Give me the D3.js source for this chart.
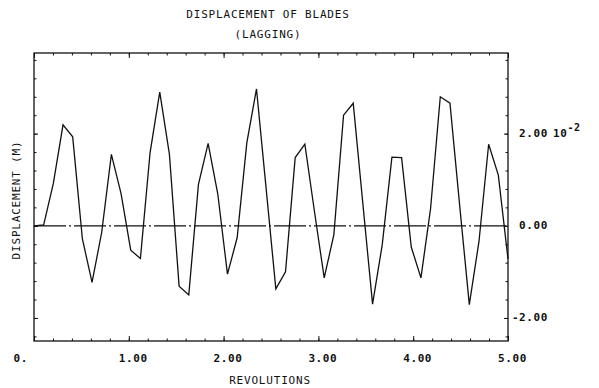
<!DOCTYPE html>
<meta charset="utf-8">
<head>
  <title>Displacement of blades (lagging)</title>
  <script src="https://d3js.org/d3.v7.min.js"></script>
  <style>
    body { margin: 0; background: #fff; }
    text {
      font-family: "DejaVu Sans Mono", monospace;
      font-size: 11px;
      letter-spacing: 0.8px;
      fill: #111;
    }
    text.num { font-weight: bold; letter-spacing: 0.6px; }
    .frame { fill: none; stroke: #111; stroke-width: 1.3px; }
    .trace { fill: none; stroke: #111; stroke-width: 1.3px; stroke-linejoin: miter; }
    .zero { stroke: #111; stroke-width: 1.2px; stroke-dasharray: 32, 3, 2, 3; }
    .tick line { stroke: #111; stroke-width: 1px; }
    .domain { display: none; }
  </style>
</head>

<body>
  <svg width="599" height="388"></svg>
  <script>
    // blade lag displacement, units of 10^-2 m, sampled evenly over 0..5 revolutions
    var displacement = [
      0.00, 0.02, 0.92, 2.19, 1.93, -0.28, -1.23, -0.14, 1.55, 0.70,
      -0.53, -0.71, 1.59, 2.90, 1.55, -1.31, -1.50, 0.90, 1.79, 0.69,
      -1.05, -0.26, 1.80, 2.97, 0.80, -1.37, -1.00, 1.48, 1.77, 0.30,
      -1.13, -0.19, 2.40, 2.66, 0.47, -1.70, -0.41, 1.49, 1.48, -0.46,
      -1.13, 0.38, 2.80, 2.66, 0.45, -1.71, -0.34, 1.77, 1.10, -0.72
    ];
    var revMax = 5;

    var xTicks = [0, 1, 2, 3, 4, 5];
    var xTickLabels = ["0.", "1.00", "2.00", "3.00", "4.00", "5.00"];
    var yTicks = [-2, 0, 2];
    var yTickLabels = ["-2.00", "0.00", "2.00"];

    var svg = d3.select("svg"),
      plotLeft = 34, plotRight = 508, plotTop = 53, plotBottom = 341;

    var x = d3.scaleLinear().domain([0, revMax]).range([plotLeft, plotRight]);
    var y = d3.scaleLinear().domain([-2.5, 3.75]).range([plotBottom, plotTop]);

    var points = displacement.map(function(d, i) {
      return { rev: i * revMax / (displacement.length - 1), value: d };
    });

    var xMinor = d3.range(0, 26).map(function(k) { return k * 0.2; });
    var yMinor = d3.range(-6, 10).map(function(k) { return k * 0.4; });

    // inward ticks on all four sides
    function addAxis(axis, tx, ty) {
      svg.append("g")
        .attr("transform", "translate(" + tx + "," + ty + ")")
        .call(axis);
    }
    addAxis(d3.axisBottom(x).tickValues(xMinor).tickSize(-2.5).tickFormat(""), 0, plotBottom);
    addAxis(d3.axisBottom(x).tickValues(xTicks).tickSize(-5).tickFormat(""), 0, plotBottom);
    addAxis(d3.axisTop(x).tickValues(xMinor).tickSize(-2.5).tickFormat(""), 0, plotTop);
    addAxis(d3.axisTop(x).tickValues(xTicks).tickSize(-5).tickFormat(""), 0, plotTop);
    addAxis(d3.axisLeft(y).tickValues(yMinor).tickSize(-2.5).tickFormat(""), plotLeft, 0);
    addAxis(d3.axisLeft(y).tickValues(yTicks).tickSize(-4).tickFormat(""), plotLeft, 0);
    addAxis(d3.axisRight(y).tickValues(yMinor).tickSize(-2.5).tickFormat(""), plotRight, 0);
    addAxis(d3.axisRight(y).tickValues(yTicks).tickSize(-4).tickFormat(""), plotRight, 0);

    svg.append("rect")
      .attr("class", "frame")
      .attr("x", plotLeft).attr("y", plotTop)
      .attr("width", plotRight - plotLeft).attr("height", plotBottom - plotTop);

    // dash-dot zero reference
    svg.append("line")
      .attr("class", "zero")
      .attr("x1", x(0)).attr("x2", x(revMax))
      .attr("y1", y(0)).attr("y2", y(0));

    var line = d3.line()
      .x(function(d) { return x(d.rev); })
      .y(function(d) { return y(d.value); });

    svg.append("path")
      .datum(points)
      .attr("class", "trace")
      .attr("d", line);

    // x tick labels (the "0." one sits left of the frame like the original)
    svg.append("g").selectAll("text")
      .data(xTicks)
      .enter().append("text")
      .attr("class", "num")
      .attr("x", function(d, i) { return i == 0 ? x(d) - 6 : x(d) - 10; })
      .attr("y", 362)
      .attr("text-anchor", function(d, i) { return i == 0 ? "end" : "start"; })
      .text(function(d, i) { return xTickLabels[i]; });

    // y tick labels on the right
    svg.append("g").selectAll("text")
      .data(yTicks)
      .enter().append("text")
      .attr("class", "num")
      .attr("x", 548)
      .attr("y", function(d) { return y(d) + 3; })
      .attr("text-anchor", "end")
      .text(function(d, i) { return yTickLabels[i]; });

    var scaleNote = svg.append("text")
      .attr("class", "num")
      .attr("x", 553)
      .attr("y", y(2) + 3)
      .text("10");
    scaleNote.append("tspan")
      .attr("dy", -6)
      .style("font-size", "10px")
      .text("-2");

    svg.append("text")
      .attr("x", 268).attr("y", 18)
      .attr("text-anchor", "middle")
      .text("DISPLACEMENT OF BLADES");
    svg.append("text")
      .attr("x", 268).attr("y", 38)
      .attr("text-anchor", "middle")
      .text("(LAGGING)");

    svg.append("text")
      .attr("x", 270).attr("y", 384)
      .attr("text-anchor", "middle")
      .text("REVOLUTIONS");

    svg.append("text")
      .attr("transform", "translate(20,200) rotate(-90)")
      .attr("text-anchor", "middle")
      .text("DISPLACEMENT (M)");
  </script>
</body>
